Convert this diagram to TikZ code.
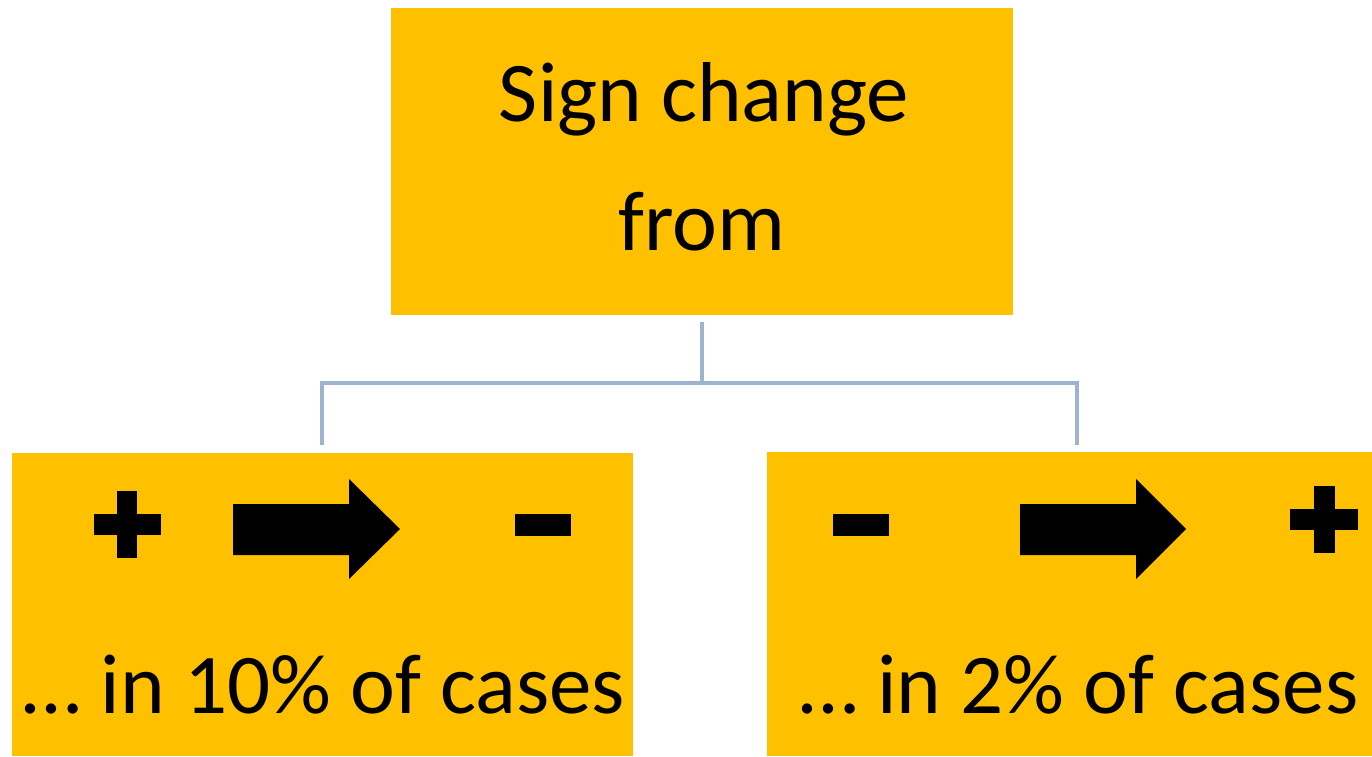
\documentclass[tikz,border=0pt]{standalone}
\usepackage{fontspec}
\setmainfont{Carlito}
\definecolor{gold}{HTML}{FFC000}
\definecolor{connblue}{HTML}{9DB3CE}
\tikzset{
  box/.style={fill=gold, draw=none, inner sep=0pt},
  bigtext/.style={anchor=base, inner sep=0pt, font=\fontsize{85}{100}\selectfont},
  conn/.style={draw=connblue, line width=4pt},
  glyph/.style={fill=black, draw=none}
}
\begin{document}
\begin{tikzpicture}[x=1pt,y=-1pt]
\useasboundingbox (0,0) rectangle (1372,756);
% boxes
\node[box, minimum width=622pt, minimum height=307pt] (top) at (702,161.5) {};
\node[box, minimum width=621pt, minimum height=303pt] (left) at (322.5,604.5) {};
\node[box, minimum width=605pt, minimum height=304pt] (right) at (1069.5,604) {};
% texts
\node[bigtext] (t1) at (704,121) {Sign change};
\node[bigtext] (t2) at (702,250) {from};
\node[bigtext] (l1) at (324,713) {… in 10\% of cases};
\node[bigtext] (r1) at (1079,713) {… in 2\% of cases};
% left symbols
\fill[glyph] (117,491) rectangle (137,558);
\fill[glyph] (94,514) rectangle (161,535);
\fill[glyph] (233,504) -- (349,504) -- (349,479) -- (400,529) -- (349,579) -- (349,555) -- (233,555) -- cycle;
\fill[glyph] (515,514) rectangle (571,536);
% right symbols
\fill[glyph] (833,514) rectangle (889,536);
\fill[glyph] (1020,504) -- (1136,504) -- (1136,479) -- (1186,529) -- (1136,579) -- (1136,555) -- (1020,555) -- cycle;
\fill[glyph] (1314,486) rectangle (1335,553);
\fill[glyph] (1290,509) rectangle (1358,530);
% connectors
\coordinate (ts) at (702,322);
\coordinate (jm) at (702,383);
\coordinate (lend) at (322,445);
\coordinate (rend) at (1077,445);
\draw[conn] (ts) -- (jm);
\draw[conn] (lend) |- (jm) -| (rend);
\end{tikzpicture}
\end{document}
